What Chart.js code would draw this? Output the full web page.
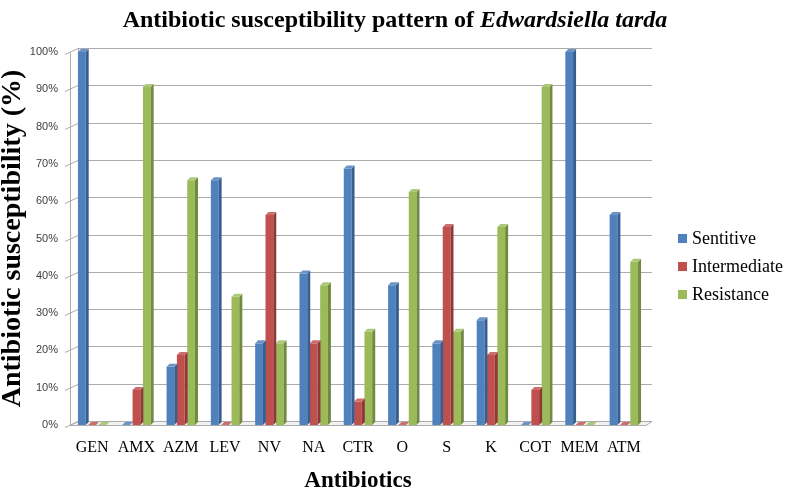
<!DOCTYPE html>
<html>
<head>
<meta charset="utf-8">
<script src="https://cdn.jsdelivr.net/npm/chart.js@4.4.1/dist/chart.umd.min.js"></script>
<style>
  body { margin: 0; background: #fff; }
  #wrap { position: relative; width: 788px; height: 493px; }
  #title {
    position: absolute; left: 0; top: 7px; width: 790px; text-align: center;
    font-family: "Liberation Serif", serif; font-weight: bold; font-size: 24px; line-height: 24px; color: #000;
  }
  #legend {
    position: absolute; left: 678px; top: 225px;
    font-family: "Liberation Serif", serif; font-size: 18px; color: #000;
  }
  #legend div { height: 28px; line-height: 26px; white-space: nowrap; }
  #legend span { display: inline-block; width: 9px; height: 9px; margin-right: 5px; vertical-align: 1px; }
</style>
</head>
<body>
<div id="wrap">
  <canvas id="myChart"></canvas>
  <div id="title">Antibiotic susceptibility pattern of <i>Edwardsiella tarda</i></div>
  <div id="legend"></div>
</div>
<script>
  // values (32 isolates -> steps of ~3.1%)
  const antibiotics = ['GEN', 'AMX', 'AZM', 'LEV', 'NV', 'NA', 'CTR', 'O', 'S', 'K', 'COT', 'MEM', 'ATM'];
  const sensitive    = [100, 0, 15.6, 65.6, 21.9, 40.6, 68.8, 37.5, 21.9, 28.1, 0, 100, 56.3];
  const intermediate = [0, 9.4, 18.8, 0, 56.3, 21.9, 6.3, 0, 53.1, 18.8, 9.4, 0, 0];
  const resistance   = [0, 90.6, 65.6, 34.4, 21.9, 37.5, 25, 62.5, 25, 53.1, 90.6, 0, 43.8];
  const seriesNames  = ['Sentitive', 'Intermediate', 'Resistance'];
  const yTicks = [0, 10, 20, 30, 40, 50, 60, 70, 80, 90, 100];

  const front = ['#4F81BD', '#C0504D', '#9BBB59'];
  const side  = ['#375E8E', '#8E3937', '#718A40'];
  const topc  = ['#6B93C6', '#CC6E6B', '#ADC878'];

  const DX = 8, DY = 4, D = 3;

  const depth3d = {
    id: 'depth3d',
    beforeDatasetsDraw(chart) {
      const { ctx, chartArea: { left, right }, scales: { y } } = chart;
      const y0 = Math.round(y.getPixelForValue(0)) + 0.5;
      const yTop = Math.round(y.getPixelForValue(100)) + 0.5;
      ctx.save();
      ctx.lineWidth = 1;
      ctx.strokeStyle = '#ababab';
      // floor
      ctx.fillStyle = '#f2f2f2';
      ctx.beginPath();
      ctx.moveTo(left, y0); ctx.lineTo(right, y0);
      ctx.lineTo(right + DX - 2, y0 - DY); ctx.lineTo(left + DX, y0 - DY);
      ctx.closePath();
      ctx.fill(); ctx.stroke();
      // gridlines on back wall + little diagonal ticks
      yTicks.forEach(v => {
        const yy = Math.round(y.getPixelForValue(v)) + 0.5;
        ctx.beginPath();
        ctx.moveTo(left - 5, yy + 2);
        ctx.lineTo(left + DX, yy - DY);
        if (v > 0) ctx.lineTo(right + DX - 2, yy - DY);
        ctx.stroke();
      });
      // walls
      ctx.beginPath();
      ctx.moveTo(left + 0.5, y0); ctx.lineTo(left + 0.5, yTop);
      ctx.moveTo(left + DX + 0.5, y0 - DY); ctx.lineTo(left + DX + 0.5, yTop - DY);
      ctx.stroke();
      ctx.restore();
    },
    afterDatasetDraw(chart, args) {
      const { ctx } = chart;
      const i = args.index;
      const meta = chart.getDatasetMeta(i);
      ctx.save();
      meta.data.forEach(el => {
        const { x, y, base, width } = el.getProps(['x', 'y', 'base', 'width'], true);
        const h = width / 2;
        ctx.fillStyle = side[i];
        ctx.beginPath();
        ctx.moveTo(x + h, y); ctx.lineTo(x + h + D, y - D);
        ctx.lineTo(x + h + D, base - D); ctx.lineTo(x + h, base);
        ctx.closePath(); ctx.fill();
        ctx.fillStyle = topc[i];
        ctx.beginPath();
        ctx.moveTo(x - h, y); ctx.lineTo(x + h, y);
        ctx.lineTo(x + h + D, y - D); ctx.lineTo(x - h + D, y - D);
        ctx.closePath(); ctx.fill();
      });
      ctx.restore();
    }
  };

  const serif = 'Liberation Serif';

  new Chart('myChart', {
    type: 'bar',
    data: {
      labels: antibiotics,
      datasets: [sensitive, intermediate, resistance].map((d, i) => ({
        label: seriesNames[i],
        data: d,
        backgroundColor: front[i],
        borderWidth: 0,
        categoryPercentage: 0.7,
        barPercentage: 0.75
      }))
    },
    options: {
      responsive: true,
      maintainAspectRatio: false,
      animation: false,
      layout: { padding: { left: 0, right: 142, top: 52, bottom: 0 } },
      plugins: {
        legend: { display: false },
        tooltip: { enabled: false }
      },
      scales: {
        x: {
          grid: { display: false, drawTicks: false },
          border: { display: false },
          ticks: { font: { family: serif, size: 16 }, color: '#000', padding: 13, maxRotation: 0 },
          title: {
            display: true, text: 'Antibiotics', color: '#000',
            font: { family: serif, size: 23, weight: 'bold', lineHeight: 1 },
            padding: { top: 0, bottom: 0 }
          },
          afterFit(s) { s.height = 68; }
        },
        y: {
          min: 0, max: 100,
          grid: { display: false, drawTicks: false },
          border: { display: false },
          ticks: {
            stepSize: 10, padding: 12, color: '#404040',
            font: { family: 'Liberation Sans', size: 11 },
            callback: v => v + '%'
          },
          title: {
            display: true, text: 'Antibiotic susceptibility (%)', color: '#000',
            font: { family: serif, size: 28, weight: 'bold', lineHeight: 0.9 },
            padding: { top: 0, bottom: 0 }
          },
          afterFit(s) { s.width = 70; }
        }
      }
    },
    plugins: [depth3d]
  });

  document.getElementById('legend').innerHTML = seriesNames
    .map((n, i) => '<div><span style="background:' + front[i] + '"></span>' + n + '</div>')
    .join('');
</script>
</body>
</html>
